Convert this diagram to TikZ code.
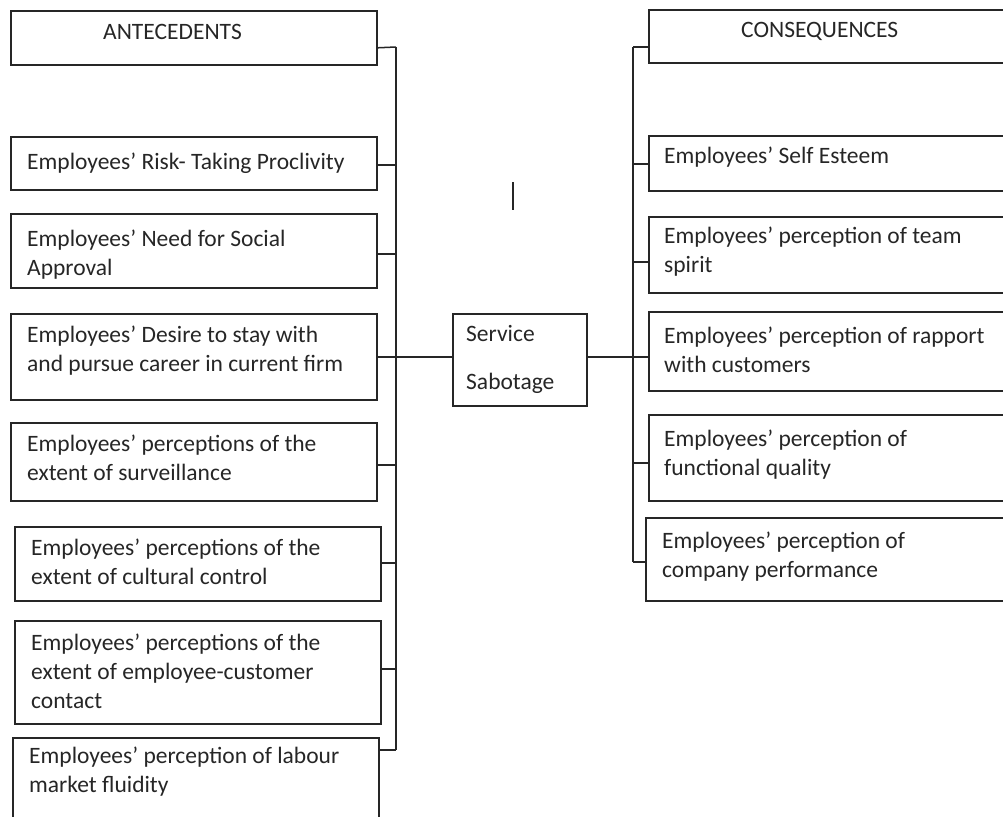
\documentclass[tikz,border=0pt]{standalone}
\usepackage{fontspec}
\setmainfont{Carlito}
\begin{document}
\begin{tikzpicture}[x=1pt,y=-1pt,
  box/.style={draw=black!85,line width=1.6pt,inner sep=0pt,anchor=north west},
  lbl/.style={anchor=west,align=left,inner sep=0pt,text=black!85,font=\fontsize{23.5}{29}\selectfont},
  link/.style={draw=black!85,line width=1.5pt}]
\useasboundingbox (0,0) rectangle (1003,816);
% left boxes
\node[box,minimum width=366pt,minimum height=54pt]  (a0) at (10,10)  {};
\node[box,minimum width=366pt,minimum height=53pt]  (a1) at (10,136) {};
\node[box,minimum width=366pt,minimum height=74pt]  (a2) at (10,213) {};
\node[box,minimum width=366pt,minimum height=86pt]  (a3) at (10,313) {};
\node[box,minimum width=366pt,minimum height=78pt]  (a4) at (10,422) {};
\node[box,minimum width=366pt,minimum height=74pt]  (a5) at (14,526) {};
\node[box,minimum width=366pt,minimum height=103pt] (a6) at (14,620) {};
\node[box,minimum width=366pt,minimum height=110pt] (a7) at (12,737) {};
% centre
\node[box,minimum width=134pt,minimum height=92pt]  (s)  at (452,313) {};
% right boxes
\node[box,minimum width=400pt,minimum height=53pt]  (c0) at (648,9)   {};
\node[box,minimum width=400pt,minimum height=55pt]  (c1) at (648,135) {};
\node[box,minimum width=400pt,minimum height=76pt]  (c2) at (648,216) {};
\node[box,minimum width=400pt,minimum height=79pt]  (c3) at (648,311) {};
\node[box,minimum width=400pt,minimum height=86pt]  (c4) at (648,414) {};
\node[box,minimum width=400pt,minimum height=83pt]  (c5) at (645,517) {};
% texts
\node[lbl] (ta0) at (103,32)  {ANTECEDENTS};
\node[lbl] (ta1) at (27,163)  {Employees’ Risk- Taking Proclivity};
\node[lbl] (ta2) at (27,255)  {Employees’ Need for Social\\Approval};
\node[lbl] (ta3) at (27,351)  {Employees’ Desire to stay with\\and pursue career in current firm};
\node[lbl] (ta4) at (27,458)  {Employees’ perceptions of the\\extent of surveillance};
\node[lbl] (ta5) at (31,562)  {Employees’ perceptions of the\\extent of cultural control};
\node[lbl] (ta6) at (31,671)  {Employees’ perceptions of the\\extent of employee-customer\\contact};
\node[lbl] (ta7) at (29,772)  {Employees’ perception of labour\\market fluidity};
\node[lbl] (ts)  at (466,359) {Service\\[19pt]Sabotage};
\node[lbl] (tc0) at (741,31)  {CONSEQUENCES};
\node[lbl] (tc1) at (664,157) {Employees’ Self Esteem};
\node[lbl] (tc2) at (664,252) {Employees’ perception of team\\spirit};
\node[lbl] (tc3) at (664,350) {Employees’ perception of rapport\\with customers};
\node[lbl] (tc4) at (664,455) {Employees’ perception of\\functional quality};
\node[lbl] (tc5) at (662,557) {Employees’ perception of\\company performance};
% buses
\coordinate (busLt) at (396,47);
\coordinate (busLb) at (396,750);
\coordinate (busRt) at (633,47);
\coordinate (busRb) at (633,562);
\draw[link] (busLt) -- (busLb);
\draw[link] (busRt) -- (busRb);
% left stubs
\draw[link] ([yshift=-10pt]a0.east) -- (busLt);
\draw[link] ([yshift=-1.5pt]a1.east) -- ([yshift=-1.5pt]a1.east -| busLt);
\draw[link] ([yshift=-3pt]a2.east) -- ([yshift=-3pt]a2.east -| busLt);
\draw[link] (a3.east) -- (a3.east -| s.west);
\draw[link] ([yshift=-3pt]a4.east) -- ([yshift=-3pt]a4.east -| busLt);
\draw[link] ([yshift=1pt]a5.east) -- ([yshift=1pt]a5.east -| busLt);
\draw[link] ([yshift=3.5pt]a6.east) -- ([yshift=3.5pt]a6.east -| busLt);
\draw[link] (a7.north east |- busLb) -- (busLb);
% right stubs
\draw[link] (s.east |- a3.east) -- (a3.east -| c3.west);
\draw[link] (busRt) -- (busRt -| c0.west);
\draw[link] ([yshift=-0.5pt]c1.west -| busRt) -- ([yshift=-0.5pt]c1.west);
\draw[link] ([yshift=-7pt]c2.west -| busRt) -- ([yshift=-7pt]c2.west);
\draw[link] ([yshift=-5pt]c4.west -| busRt) -- ([yshift=-5pt]c4.west);
\draw[link] (busRb) -- (busRb -| c5.west);
% stray mark
\coordinate (m1) at (513,182);
\coordinate (m2) at (513,210);
\draw[link,line width=1.6pt] (m1) -- (m2);
\end{tikzpicture}
\end{document}
